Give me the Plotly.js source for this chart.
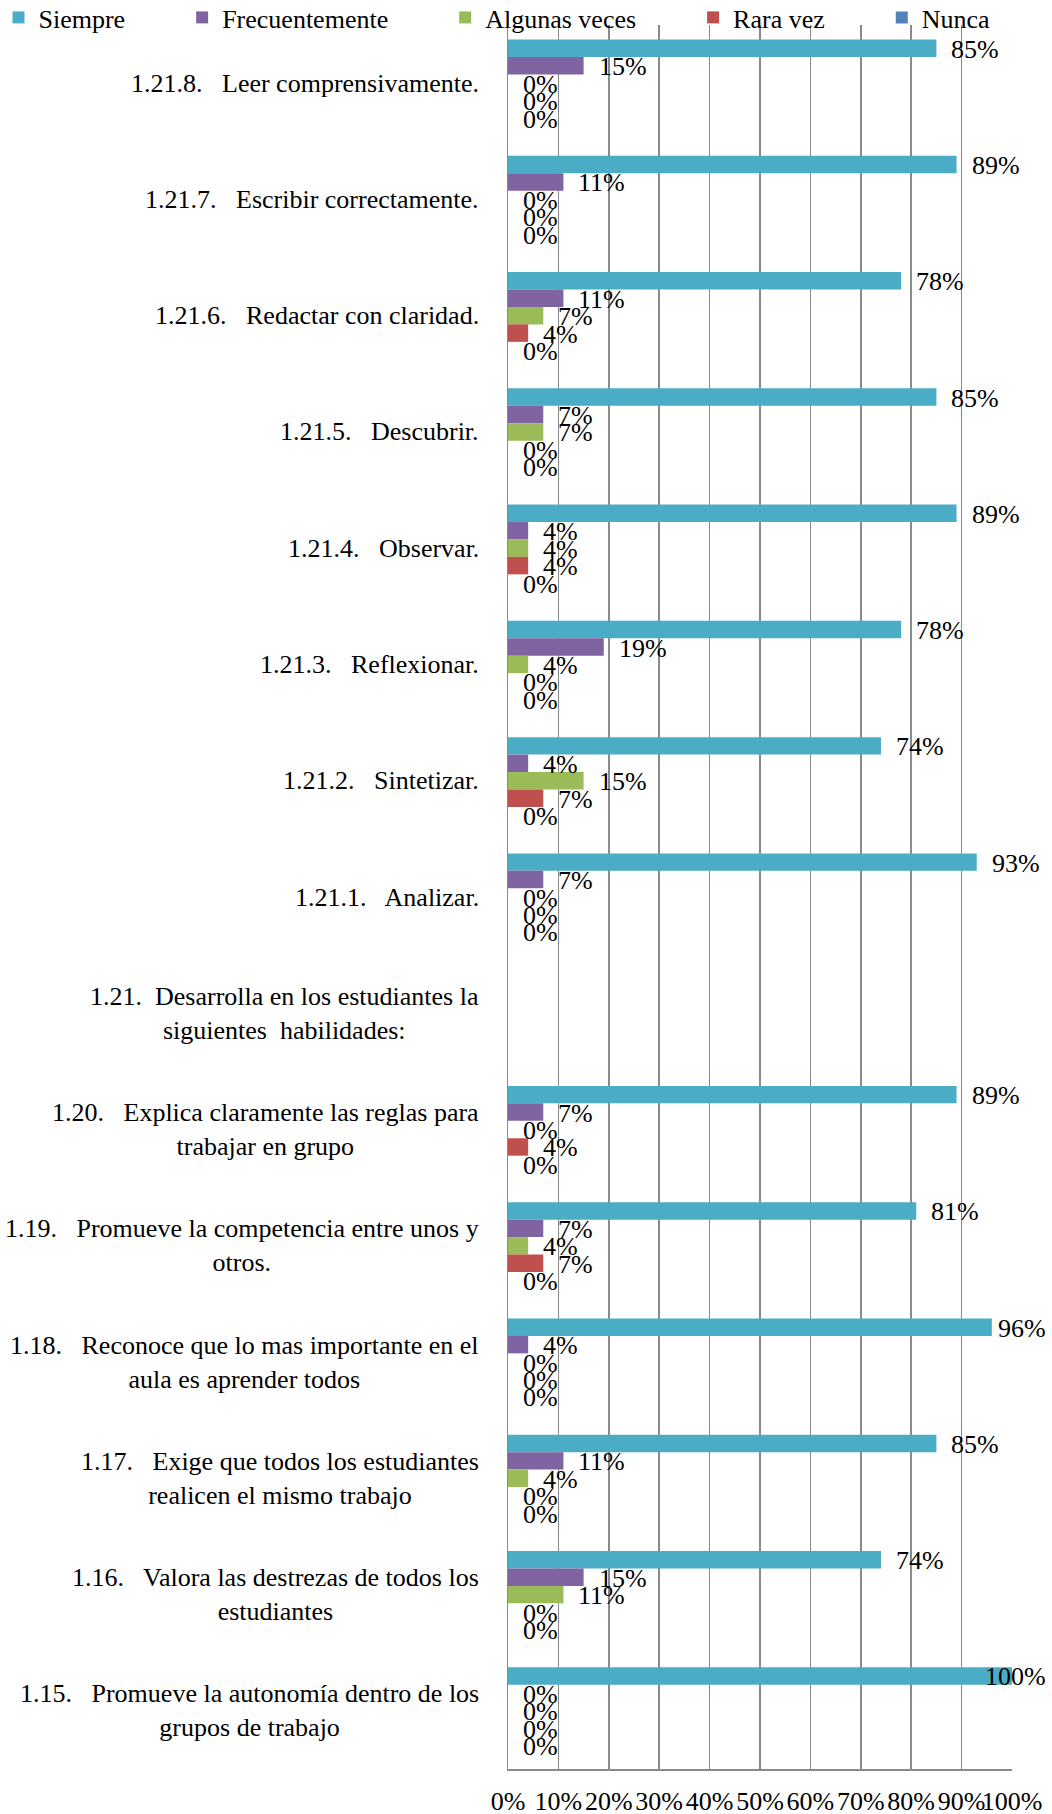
<!DOCTYPE html>
<html>
<head>
<meta charset="utf-8">
<script src="https://cdn.plot.ly/plotly-3.0.1.min.js"></script>
<style>html,body{margin:0;padding:0;background:#fff;}#chart{width:1052px;height:1814px;}</style>
</head>
<body>
<div id="chart"></div>
<script>
// Categories, top to bottom
const categories = [
  "1.21.8.\u00a0\u00a0 Leer comprensivamente.",
  "1.21.7.\u00a0\u00a0 Escribir correctamente.",
  "1.21.6.\u00a0\u00a0 Redactar con claridad.",
  "1.21.5.\u00a0\u00a0 Descubrir.",
  "1.21.4.\u00a0\u00a0 Observar.",
  "1.21.3.\u00a0\u00a0 Reflexionar.",
  "1.21.2.\u00a0\u00a0 Sintetizar.",
  "1.21.1.\u00a0\u00a0 Analizar.",
  "1.21.\u00a0 Desarrolla en los estudiantes la<br>siguientes\u00a0 habilidades:",
  "1.20.\u00a0\u00a0 Explica claramente las reglas para<br>trabajar en grupo",
  "1.19.\u00a0\u00a0 Promueve la competencia entre unos y<br>otros.",
  "1.18.\u00a0\u00a0 Reconoce que lo mas importante en el<br>aula es aprender todos",
  "1.17.\u00a0\u00a0 Exige que todos los estudiantes<br>realicen el mismo trabajo",
  "1.16.\u00a0\u00a0 Valora las destrezas de todos los<br>estudiantes",
  "1.15.\u00a0\u00a0 Promueve la autonomía dentro de los<br>grupos de trabajo"
];

const seriesNames = ["Siempre", "Frecuentemente", "Algunas veces", "Rara vez", "Nunca"];
const seriesColors = ["#4BACC6", "#8064A2", "#9BBB59", "#C0504D", "#4F81BD"];

// Values in percent (null = no data for the heading row)
const siempre        = [85, 89, 78, 85, 89, 78, 74, 93, null, 89, 81, 96, 85, 74, 100];
const frecuentemente = [15, 11, 11,  7,  4, 19,  4,  7, null,  7,  7,  4, 11, 15,   0];
const algunasVeces   = [ 0,  0,  7,  7,  4,  4, 15,  0, null,  0,  4,  0,  4, 11,   0];
const raraVez        = [ 0,  0,  4,  0,  4,  0,  7,  0, null,  4,  7,  0,  0,  0,   0];
const nunca          = [ 0,  0,  0,  0,  0,  0,  0,  0, null,  0,  0,  0,  0,  0,   0];

const xTickVals = [0, 10, 20, 30, 40, 50, 60, 70, 80, 90, 100];
const xTickText = ["0%", "10%", "20%", "30%", "40%", "50%", "60%", "70%", "80%", "90%", "100%"];

const allSeries = [siempre, frecuentemente, algunasVeces, raraVez, nunca];

const FONT = "Liberation Serif";
const FS = 26;
const W = 1052, H = 1814;
const M = {l: 508, r: 40, t: 25, b: 45, autoexpand: false};
const plotW = W - M.l - M.r;
const plotH = H - M.t - M.b;
const BARGAP = 0.25;
const nS = allSeries.length;
const barW = (1 - BARGAP) / nS;
const fnt = () => ({family: FONT, size: FS, color: "#000"});

const legendPad = "\u00a0".repeat(8);

const traces = allSeries.map((vals, j) => ({
  type: "bar",
  orientation: "h",
  name: j < nS - 1 ? seriesNames[j] + legendPad : seriesNames[j],
  x: vals,
  y: categories,
  marker: {color: seriesColors[j], line: {width: 0}},
  hoverinfo: "skip"
}));

const annotations = [];
// Category labels (lines centered, block right-aligned against the plot)
categories.forEach((c, i) => {
  annotations.push({
    xref: "paper", yref: "y", x: 0, y: i, xanchor: "right", yanchor: "middle",
    xshift: -27, align: "center", showarrow: false, text: c, font: fnt()
  });
});
// Data labels
allSeries.forEach((vals, j) => {
  vals.forEach((v, i) => {
    if (v === null) return;
    const txt = Math.round(v) + "%";
    const px = M.l + v / 100 * plotW;
    const estW = (txt.length - 1) * 0.5 * FS + 0.833 * FS;
    const a = {
      xref: "x", yref: "y", x: v, y: i - (1 - BARGAP) / 2 + barW * (j + 0.5),
      yanchor: "middle", yshift: -1, showarrow: false, text: txt, font: fnt()
    };
    if (px + 15 + estW > W - 4) {
      a.xanchor = "right"; a.xshift = (W - 4) - px;
    } else {
      a.xanchor = "left"; a.xshift = 13;
    }
    annotations.push(a);
  });
});

const layout = {
  width: W, height: H,
  margin: M,
  paper_bgcolor: "#fff", plot_bgcolor: "#fff",
  font: fnt(),
  barmode: "group", bargap: BARGAP, bargroupgap: 0,
  showlegend: true,
  legend: {
    orientation: "h",
    x: -(M.l + 1.5) / plotW, y: 1 + (M.t + 6) / plotH,
    xanchor: "left", yanchor: "top",
    font: fnt(),
    bgcolor: "rgba(0,0,0,0)", traceorder: "normal"
  },
  xaxis: {
    range: [0, 100], tickmode: "array", tickvals: xTickVals, ticktext: xTickText,
    tickangle: 0,
    showgrid: true, gridcolor: "#8a8a8a", gridwidth: 1.5,
    zeroline: false, showline: true, linecolor: "#8a8a8a", linewidth: 1.5,
    ticks: "", ticklabelstandoff: 8,
    tickfont: fnt(), fixedrange: true
  },
  yaxis: {
    type: "category", categoryorder: "array", categoryarray: categories,
    range: [categories.length - 0.5, -0.5],
    showticklabels: false, showgrid: false, zeroline: false,
    showline: true, linecolor: "#8a8a8a", linewidth: 1.5, ticks: "", fixedrange: true
  },
  annotations: annotations
};

Plotly.newPlot("chart", traces, layout, {displayModeBar: false, staticPlot: true});
</script>
</body>
</html>
